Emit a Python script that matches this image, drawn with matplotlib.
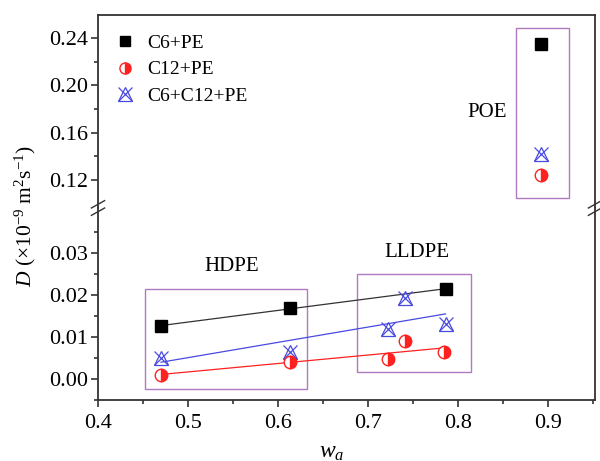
import numpy as np
import matplotlib
matplotlib.use('Agg')
import matplotlib.pyplot as plt
from matplotlib.patches import Rectangle
from matplotlib.lines import Line2D

plt.rcParams['font.family'] = ['Liberation Serif', 'DejaVu Serif']
plt.rcParams['mathtext.fontset'] = 'custom'
plt.rcParams['mathtext.rm'] = 'Liberation Serif'
plt.rcParams['mathtext.it'] = 'Liberation Serif:italic'

# C6+PE
c6_x = [0.470, 0.613, 0.786]
c6_y = [0.0126, 0.0169, 0.0214]
c6_poe_x = [0.892]
c6_poe_y = [0.235]

# C12+PE
c12_x = [0.470, 0.613, 0.722, 0.741, 0.784]
c12_y = [0.0010, 0.0040, 0.0047, 0.0090, 0.0064]
c12_poe_x = [0.892]
c12_poe_y = [0.124]

# C6+C12+PE
mix_x = [0.470, 0.613, 0.722, 0.741, 0.786]
mix_y = [0.0050, 0.0064, 0.0119, 0.0193, 0.0131]
mix_poe_x = [0.892]
mix_poe_y = [0.142]

black = '#000000'
red = '#ff2020'
blue = '#4a4ae0'
box_col = '#b07ac0'
fs = 16

fig = plt.figure(figsize=(6.0, 4.61), dpi=100)
left, right = 98 / 600, 595 / 600
top, bot, brk = 1 - 15 / 461, 1 - 400 / 461, 1 - 208 / 461
ax_top = fig.add_axes([left, brk, right - left, top - brk])
ax_bot = fig.add_axes([left, bot, right - left, brk - bot])

ax_top.set_ylim(0.0963, 0.2595)
ax_bot.set_ylim(-0.005, 0.0407)
for ax in (ax_top, ax_bot):
    ax.set_xlim(0.4, 0.952)
    for s in ax.spines.values():
        s.set_linewidth(1.3)
        s.set_color('#333333')
    ax.tick_params(axis='both', which='both', direction='out', labelsize=fs,
                   right=False, top=False, width=1.2, color='#333333', pad=2)
    ax.tick_params(which='major', length=5)
    ax.tick_params(which='minor', length=3)

ax_top.spines['bottom'].set_visible(False)
ax_bot.spines['top'].set_visible(False)
ax_top.tick_params(axis='x', which='both', bottom=False, labelbottom=False)

ax_top.set_yticks([0.12, 0.16, 0.20, 0.24])
ax_top.set_yticks([0.14, 0.18, 0.22], minor=True)
ax_top.set_yticklabels(['0.12', '0.16', '0.20', '0.24'])
ax_bot.set_yticks([0.0, 0.01, 0.02, 0.03])
ax_bot.set_yticks([-0.005, 0.005, 0.015, 0.025, 0.035], minor=True)
ax_bot.set_yticklabels(['0.00', '0.01', '0.02', '0.03'])
ax_bot.set_xticks([0.4, 0.5, 0.6, 0.7, 0.8, 0.9])
ax_bot.set_xticks([0.45, 0.55, 0.65, 0.75, 0.85, 0.95], minor=True)
ax_bot.set_xticklabels(['0.4', '0.5', '0.6', '0.7', '0.8', '0.9'])
ax_bot.tick_params(axis='x', pad=5)

# linear fits
for xs, ys, col in [(c6_x, c6_y, '#333333'), (mix_x, mix_y, blue), (c12_x, c12_y, red)]:
    k, b = np.polyfit(xs, ys, 1)
    xx = np.array([min(xs), max(xs)])
    ax_bot.plot(xx, k * xx + b, color=col, lw=0.9, zorder=2)

sq = dict(marker='s', ms=8, color=black, ls='none', zorder=4)
hc = dict(marker='o', ms=9, color=red, mec=red, fillstyle='right',
          markerfacecoloralt='white', mew=1.0, ls='none', zorder=4)
tri = dict(marker='^', ms=10, mfc='none', mec=blue, mew=0.9, ls='none', zorder=3)
crs = dict(marker='x', ms=10, mec=blue, mew=0.9, ls='none', zorder=3)

ax_bot.plot(c6_x, c6_y, **sq)
ax_bot.plot(c12_x, c12_y, **hc)
ax_bot.plot(mix_x, mix_y, **tri)
ax_bot.plot(mix_x, mix_y, **crs)
ax_top.plot(c6_poe_x, c6_poe_y, **sq)
ax_top.plot(c12_poe_x, c12_poe_y, **hc)
ax_top.plot(mix_poe_x, mix_poe_y, **tri)
ax_top.plot(mix_poe_x, mix_poe_y, **crs)

# boxes
ax_bot.add_patch(Rectangle((0.452, -0.0024), 0.180, 0.0238, fill=False, ec=box_col, lw=1.0))
ax_bot.add_patch(Rectangle((0.688, 0.0017), 0.126, 0.0233, fill=False, ec=box_col, lw=1.0))
ax_top.add_patch(Rectangle((0.864, 0.1048), 0.059, 0.1437, fill=False, ec=box_col, lw=1.0))

ax_bot.text(0.549, 0.0267, 'HDPE', fontsize=15, ha='center', va='center')
ax_bot.text(0.754, 0.0300, 'LLDPE', fontsize=15, ha='center', va='center')
ax_top.text(0.832, 0.1774, 'POE', fontsize=15, ha='center', va='center')

# legend
handles = [Line2D([], [], **{**sq, 'ms': 7}), Line2D([], [], **{**hc, 'ms': 8}),
           (Line2D([], [], **tri), Line2D([], [], **crs))]
ax_top.legend(handles, ['C6+PE', 'C12+PE', 'C6+C12+PE'], loc='upper left',
              frameon=False, fontsize=14, handlelength=1.0, handletextpad=0.6,
              labelspacing=0.45, borderaxespad=0.0, bbox_to_anchor=(0.02, 0.94))

# axis break marks
for xb in (left, right):
    for dy in (0.008, -0.008):
        fig.add_artist(Line2D([xb - 0.011, xb + 0.011], [brk + dy - 0.008, brk + dy + 0.008],
                              color='#333333', lw=1.0))

fig.text(25 / 600, 1 - 216 / 461, r'$D$ (×10$^{-9}$ m$^{2}$s$^{-1}$)', rotation=90,
         ha='center', va='center', fontsize=15.5)
fig.text(332 / 600, 1 - 452 / 461, r'$w_a$', ha='center', va='center', fontsize=17)

fig.savefig('out.png', dpi=100)
